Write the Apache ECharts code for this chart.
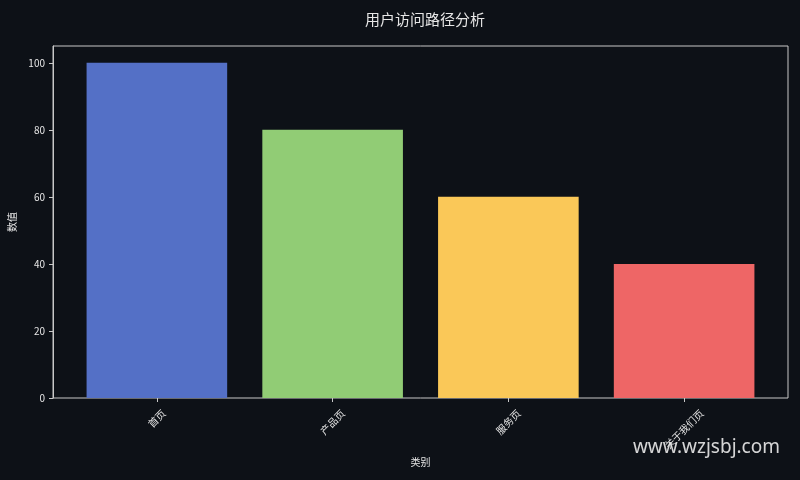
<!DOCTYPE html>
<html>
<head>
<meta charset="utf-8">
<script src="https://cdn.jsdelivr.net/npm/echarts@6/dist/echarts.min.js"></script>
<style>
  html, body { margin: 0; padding: 0; background: #0d1117; }
  #chart { width: 800px; height: 480px; }
</style>
</head>
<body>
<div id="chart"></div>
<script>
const categories = ['首页', '产品页', '服务页', '关于我们页'];
const values = [100, 80, 60, 40];
const colors = ['#5470c6', '#91cc75', '#fac858', '#ee6666'];
const yTicks = [0, 20, 40, 60, 80, 100];

const textColor = '#e6e6e6';
const frameColor = '#c8c8c8';
const font = '"Noto Sans CJK SC", "DejaVu Sans", sans-serif';
const labelSize = 10;

const myChart = echarts.init(document.getElementById('chart'));

// category names are drawn as bar labels at the bar base, rotated 45deg and
// centred under the tick (matplotlib ha='center'). The label offset is in the
// rotated frame, so a straight drop of d becomes [-d/sqrt2, d/sqrt2].
function labelOffset(name) {
  const len = name.length * labelSize;
  const d = 10 + (len + labelSize) / (2 * Math.SQRT2);
  return [-d / Math.SQRT2, d / Math.SQRT2];
}

const option = {
  backgroundColor: '#0d1117',
  animation: false,
  title: {
    text: '用户访问路径分析',
    left: 420,
    textAlign: 'center',
    top: 7,
    textStyle: { color: textColor, fontSize: 15, fontWeight: 'normal', fontFamily: font }
  },
  grid: [
    { left: 53, right: 12, top: 46, bottom: 82, outerBoundsMode: 'none', show: true, borderColor: frameColor, borderWidth: 1 },
    { left: 69, right: 28, top: 46, bottom: 82, outerBoundsMode: 'none' }
  ],
  xAxis: [
    { type: 'value', gridIndex: 0, show: false, min: 0, max: 1 },
    {
      type: 'category',
      gridIndex: 1,
      data: categories,
      boundaryGap: true,
      name: '类别',
      nameLocation: 'middle',
      nameGap: 59,
      nameTextStyle: { color: textColor, fontSize: 10, fontFamily: font },
      axisLine: { show: false },
      axisTick: { show: true, alignWithLabel: true, length: 4, lineStyle: { color: frameColor } },
      axisLabel: { show: false }
    }
  ],
  yAxis: [
    {
      type: 'value',
      gridIndex: 0,
      min: 0,
      max: 105,
      interval: 20,
      name: '数值',
      nameLocation: 'middle',
      nameGap: 36,
      nameTextStyle: { color: textColor, fontSize: 10, fontFamily: font },
      axisLine: { show: true, lineStyle: { color: frameColor } },
      axisTick: { show: true, length: 4, customValues: yTicks, lineStyle: { color: frameColor } },
      axisLabel: { color: textColor, fontSize: 10, fontFamily: font, customValues: yTicks },
      splitLine: { show: false }
    },
    { type: 'value', gridIndex: 1, min: 0, max: 105, show: false }
  ],
  series: [
    {
      type: 'bar',
      xAxisIndex: 1,
      yAxisIndex: 1,
      barWidth: '80%',
      label: {
        show: true,
        position: 'insideBottom',
        distance: 0,
        rotate: 45,
        align: 'center',
        verticalAlign: 'middle',
        color: textColor,
        fontSize: labelSize,
        fontFamily: font,
        formatter: p => p.name
      },
      data: values.map((v, i) => ({
        value: v,
        itemStyle: { color: colors[i] },
        label: { offset: labelOffset(categories[i]) }
      }))
    }
  ],
  graphic: [
    {
      type: 'text',
      right: 20,
      top: 438,
      style: { text: 'www.wzjsbj.com', fill: 'rgba(235,235,235,0.9)', fontSize: 19, fontFamily: '"Noto Sans", sans-serif' }
    }
  ]
};

myChart.setOption(option);
</script>
</body>
</html>
